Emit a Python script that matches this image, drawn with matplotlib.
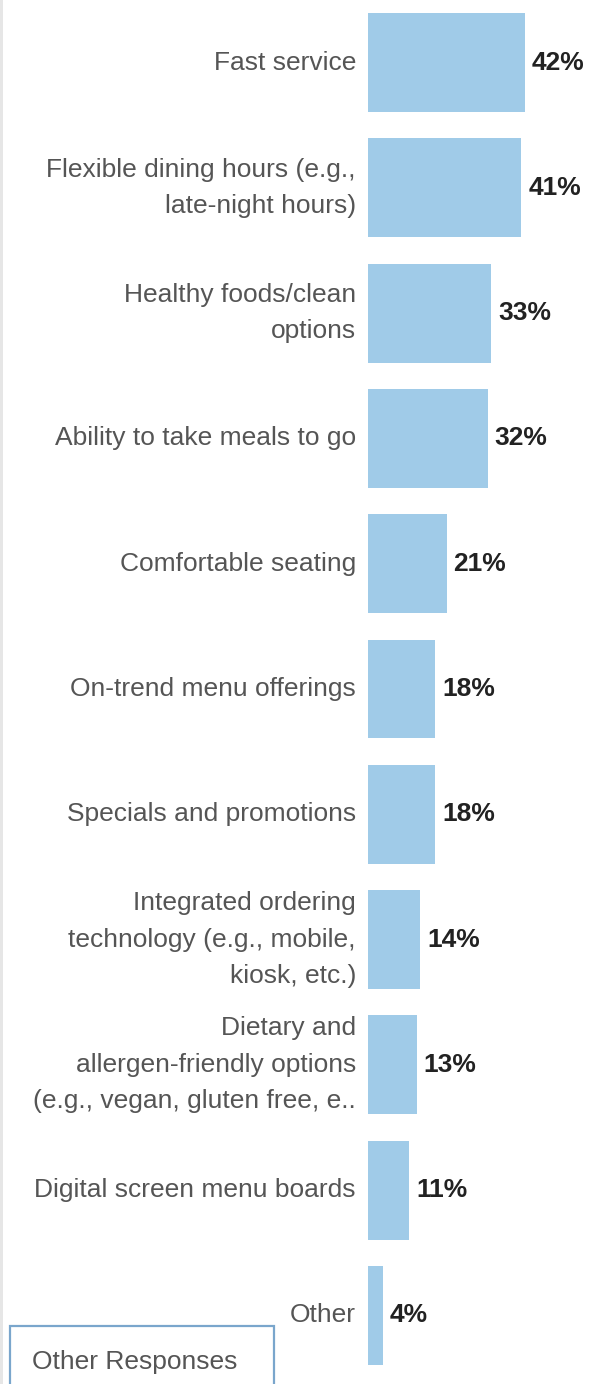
import matplotlib.pyplot as plt
from matplotlib.patches import Rectangle

# survey answers, top to bottom
categories = [
    "Fast service",
    "Flexible dining hours (e.g.,\nlate-night hours)",
    "Healthy foods/clean\noptions",
    "Ability to take meals to go",
    "Comfortable seating",
    "On-trend menu offerings",
    "Specials and promotions",
    "Integrated ordering\ntechnology (e.g., mobile,\nkiosk, etc.)",
    "Dietary and\nallergen-friendly options\n(e.g., vegan, gluten free, e..",
    "Digital screen menu boards",
    "Other",
]
shares = [42, 41, 33, 32, 21, 18, 18, 14, 13, 11, 4]

W, H = 596, 1384
BAR_COLOR = "#a0cbe8"
LABEL_COLOR = "#555555"
VALUE_COLOR = "#222222"
FONT = "Liberation Sans"
FS = 19

fig = plt.figure(figsize=(W / 100, H / 100), dpi=100)
fig.patch.set_facecolor("white")

# bars start at x=368 px, ~3.74 px per percent
x0 = 368
ax = fig.add_axes([x0 / W, 1 - 1378 / H, (W - x0) / W, 1378 / H])
ax.set_xlim(0, (W - x0) / 3.74)
ax.set_ylim(len(shares) - 0.5, -0.5)
ax.axis("off")

ypos = list(range(len(shares)))
ax.barh(ypos, shares, height=0.79, color=BAR_COLOR)

for y, lab, v in zip(ypos, categories, shares):
    ax.annotate(lab, xy=(0, y), xycoords="data", xytext=(-12, 0),
                textcoords="offset pixels", ha="right", va="center",
                fontsize=FS, family=FONT, color=LABEL_COLOR, linespacing=1.65)
    ax.annotate(f"{v}%", xy=(v, y), xycoords="data", xytext=(7, 0),
                textcoords="offset pixels", ha="left", va="center",
                fontsize=FS, family=FONT, color=VALUE_COLOR, fontweight="bold")

# thin gray strip on the left edge
fig.patches.append(Rectangle((0, 0), 3 / W, 1, transform=fig.transFigure,
                             facecolor="#e6e6e6", edgecolor="none"))

# "Other Responses" box at the bottom
fig.patches.append(Rectangle((10 / W, -0.02), 264 / W, 0.02 + (H - 1326) / H,
                             transform=fig.transFigure, facecolor="white",
                             edgecolor="#7aa6cc", linewidth=1.6))
fig.text(32 / W, 1 - 1362 / H, "Other Responses", ha="left", va="center",
         fontsize=FS, family=FONT, color=LABEL_COLOR)

fig.savefig("out.png", dpi=100, facecolor="white")
